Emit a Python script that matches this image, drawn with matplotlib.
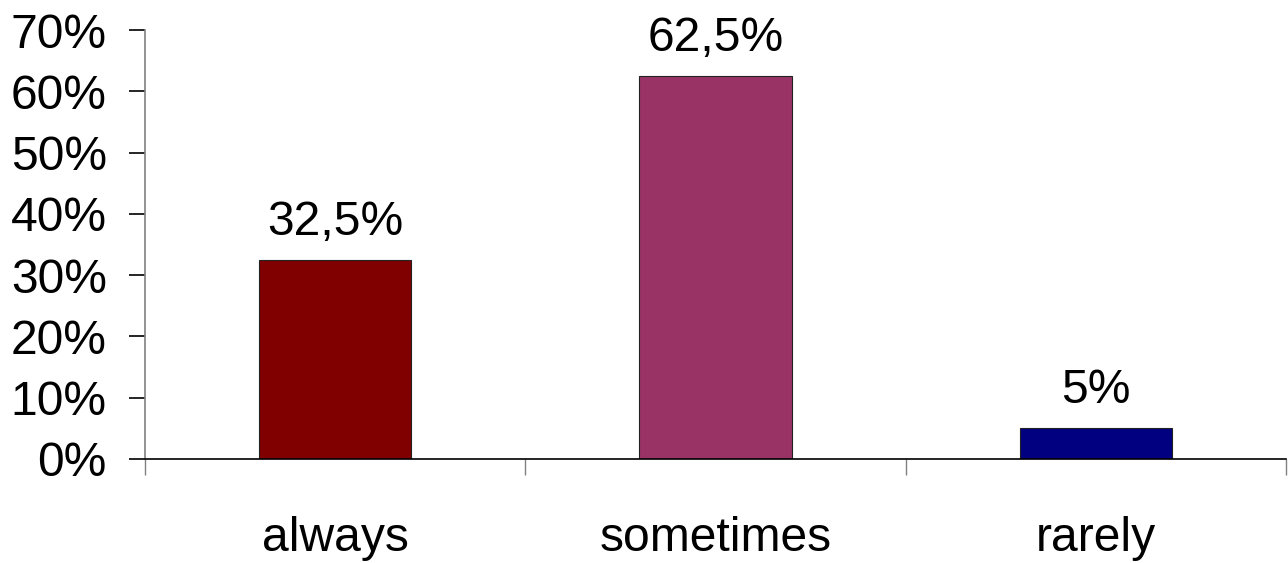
import matplotlib
matplotlib.use('Agg')
import matplotlib.pyplot as plt
import numpy as np

categories = ["always", "sometimes", "rarely"]
values = [32.5, 62.5, 5.0]
value_labels = ["32,5%", "62,5%", "5%"]
colors = ["#800000", "#993366", "#000080"]
yticks = [0, 10, 20, 30, 40, 50, 60, 70]

plt.rcParams['font.family'] = ['Liberation Sans', 'DejaVu Sans']
fs = 34.6

fig = plt.figure(figsize=(12.88, 5.63), dpi=100)
ax = fig.add_axes([145 / 1288, 1 - 459 / 563, (1286 - 145) / 1288, (459 - 30) / 563])

x = np.arange(len(categories)) + 0.5
ax.bar(x, values, width=0.4, color=colors, edgecolor="#222222", linewidth=0.8, zorder=2)

for xi, v, lab in zip(x, values, value_labels):
    ax.annotate(lab, (xi, v), xytext=(0, 11), textcoords="offset points",
                ha="center", va="bottom", fontsize=fs)

ax.set_xlim(0, 3)
ax.set_ylim(0, 70)
ax.set_yticks(yticks)
ax.set_yticklabels([f"{t}%" for t in yticks], fontsize=fs)
ax.tick_params(axis="y", length=11.5, width=1.2, color="black", pad=16)

ax.set_xticks([0, 1, 2, 3])
ax.set_xticklabels([])
ax.tick_params(axis="x", which="major", length=11.5, width=1.0, color="#808080")
ax.set_xticks(x, minor=True)
ax.set_xticklabels(categories, minor=True, fontsize=fs)
ax.tick_params(axis="x", which="minor", length=0, pad=41)

ax.spines["top"].set_visible(False)
ax.spines["right"].set_visible(False)
ax.spines["left"].set_color("#808080")
ax.spines["left"].set_linewidth(1.2)
ax.spines["bottom"].set_color("black")
ax.spines["bottom"].set_linewidth(1.2)
ax.spines["bottom"].set_zorder(3)

fig.savefig("out.png", dpi=100)
